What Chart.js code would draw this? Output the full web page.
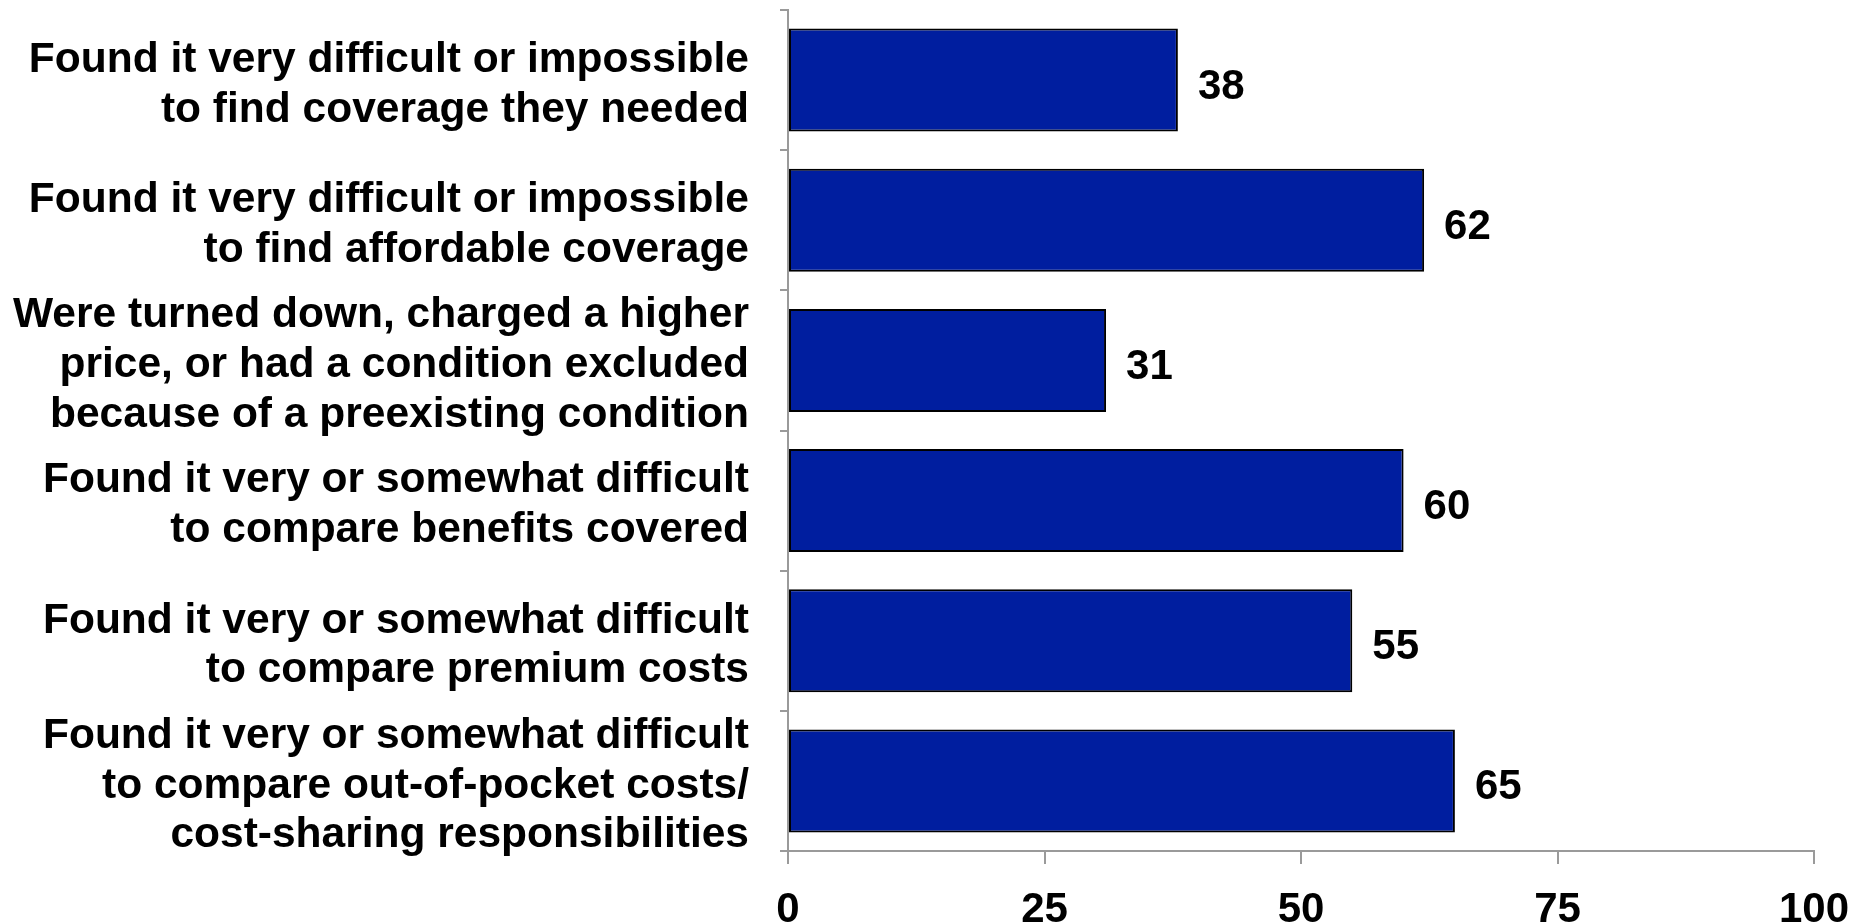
<!DOCTYPE html>
<html>
<head>
<meta charset="utf-8">
<script src="https://cdn.jsdelivr.net/npm/chart.js@4/dist/chart.umd.min.js"></script>
<style>
  html, body { margin: 0; padding: 0; background: #fff; }
  #wrap { width: 1853px; height: 922px; }
</style>
</head>
<body>
<div id="wrap"><canvas id="chart"></canvas></div>
<script>
// categories (multi-line, as in the picture)
const categories = [
  ["Found it very difficult or impossible", "to find coverage they needed"],
  ["Found it very difficult or impossible", "to find affordable coverage"],
  ["Were turned down, charged a higher", "price, or had a condition excluded", "because of a preexisting condition"],
  ["Found it very or somewhat difficult", "to compare benefits covered"],
  ["Found it very or somewhat difficult", "to compare premium costs"],
  ["Found it very or somewhat difficult", "to compare out-of-pocket costs/", "cost-sharing responsibilities"]
];
const values = [38, 62, 31, 60, 55, 65];
const xTicks = [0, 25, 50, 75, 100];

const FONT = "'Liberation Sans', Arial, sans-serif";
const AXIS_GRAY = '#9a9a9a';

// value labels to the right of each bar
const valueLabels = {
  id: 'valueLabels',
  afterDatasetsDraw(chart) {
    const ctx = chart.ctx;
    const meta = chart.getDatasetMeta(0);
    ctx.save();
    ctx.font = 'bold 42px ' + FONT;
    ctx.fillStyle = '#000';
    ctx.textAlign = 'left';
    ctx.textBaseline = 'middle';
    meta.data.forEach((bar, i) => {
      ctx.fillText(String(values[i]), bar.x + 20, bar.y + 7);
    });
    ctx.restore();
  }
};

new Chart(document.getElementById('chart'), {
  type: 'bar',
  data: {
    labels: categories,
    datasets: [{
      data: values,
      backgroundColor: '#001E9F',
      borderColor: '#000',
      borderWidth: 2,
      borderSkipped: false,
      barPercentage: 0.735,
      categoryPercentage: 1
    }]
  },
  options: {
    indexAxis: 'y',
    responsive: true,
    maintainAspectRatio: false,
    animation: false,
    layout: { padding: { top: 10, right: 39, left: 0, bottom: 0 } },
    plugins: { legend: { display: false }, tooltip: { enabled: false } },
    scales: {
      x: {
        min: 0,
        max: 100,
        afterBuildTicks(scale) { scale.ticks = xTicks.map(v => ({ value: v })); },
        afterFit(scale) { scale.height = 71; scale.paddingLeft = 0; scale.paddingRight = 0; },
        border: { color: AXIS_GRAY, width: 2 },
        grid: { drawOnChartArea: false, drawTicks: true, tickLength: 13, color: AXIS_GRAY, lineWidth: 2 },
        ticks: {
          color: '#000',
          padding: 21,
          maxRotation: 0,
          font: { family: FONT, size: 42, weight: 'bold' }
        }
      },
      y: {
        offset: true,
        afterFit(scale) { scale.width = 788; scale.paddingTop = 0; scale.paddingBottom = 0; },
        border: { color: AXIS_GRAY, width: 2 },
        grid: { offset: true, drawOnChartArea: false, drawTicks: true, tickLength: 8, color: AXIS_GRAY, lineWidth: 2 },
        ticks: {
          color: '#000',
          padding: 31,
          labelOffset: 5,
          autoSkip: false,
          font: { family: FONT, size: 42.5, weight: 'bold', lineHeight: 1.17 }
        }
      }
    }
  },
  plugins: [valueLabels]
});
</script>
</body>
</html>
